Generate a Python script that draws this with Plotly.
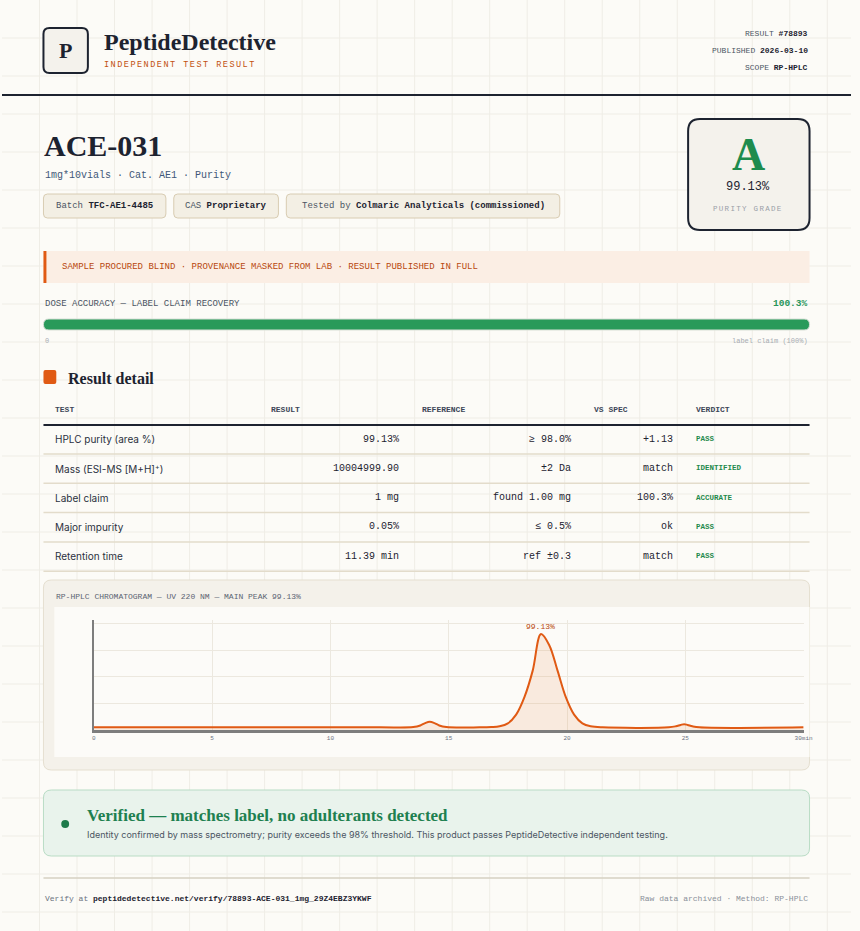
import plotly.graph_objects as go

# chromatogram trace (minutes vs absorbance, arbitrary units)
rt_min = [0, 12.0, 13.5, 13.8, 14.0, 14.2, 14.4, 14.6, 14.9, 16.3, 16.8, 17.15, 17.5, 17.85, 18.2, 18.55,
          18.9, 19.25, 19.6, 19.95, 20.3, 20.65, 21.0, 21.5, 24.3, 24.6, 24.8, 24.95, 25.1, 25.3, 25.6, 30]
signal = [0.1, 0.1, 0.11, 0.17, 0.26, 0.31, 0.26, 0.17, 0.11, 0.1, 0.11, 0.14, 0.25, 0.58, 1.24, 2.24,
          3.62, 3.20, 2.24, 1.24, 0.58, 0.25, 0.14, 0.1, 0.1, 0.14, 0.19, 0.22, 0.19, 0.14, 0.1, 0.1]
x_ticks = [0, 5, 10, 15, 20, 25, 30]
x_tick_labels = ["0", "5", "10", "15", "20", "25", "30min"]
peak_label = "99.13%"

table_head = ["TEST", "RESULT", "REFERENCE", "VS SPEC", "VERDICT"]
tests = ["HPLC purity (area %)", "Mass (ESI-MS [M+H]<sup>+</sup>)", "Label claim", "Major impurity", "Retention time"]
results = ["99.13%", "10004999.90", "1 mg", "0.05%", "11.39 min"]
references = ["≥ 98.0%", "±2 Da", "found 1.00 mg", "≤ 0.5%", "ref ±0.3"]
vs_spec = ["+1.13", "match", "100.3%", "ok", "match"]
verdicts = ["PASS", "IDENTIFIED", "ACCURATE", "PASS", "PASS"]

W, H = 860, 931
MONO = "Liberation Mono"
SERIF = "Liberation Serif"
SANS = "Inter"
INK = "#1d2330"
GREEN = "#1f8a4c"
ORANGE = "#e05a14"

shapes = []
annots = []


def px(x):
    return x / W


def py(y):
    return 1 - y / H


def spaced(s, gap):
    return f"<span style='letter-spacing:{gap}px'>{s}</span>"


def rrect(x0, y0, x1, y1, r, fill, line=None, lw=1):
    rx, ry = r / W, r / H
    a, b, c, d = px(x0), px(x1), py(y0), py(y1)
    p = (f"M{a+rx},{c} L{b-rx},{c} Q{b},{c} {b},{c-ry} L{b},{d+ry} Q{b},{d} {b-rx},{d} "
         f"L{a+rx},{d} Q{a},{d} {a},{d+ry} L{a},{c-ry} Q{a},{c} {a+rx},{c} Z")
    shapes.append(dict(type="path", path=p, xref="paper", yref="paper", fillcolor=fill, layer="below",
                       line=dict(color=line or fill, width=lw if line else 0)))


def rect(x0, y0, x1, y1, fill):
    shapes.append(dict(type="rect", x0=px(x0), x1=px(x1), y0=py(y0), y1=py(y1), xref="paper", yref="paper",
                       fillcolor=fill, line=dict(width=0), layer="below"))


def line(x0, y0, x1, y1, color, w=1):
    shapes.append(dict(type="line", x0=px(x0), x1=px(x1), y0=py(y0), y1=py(y1), xref="paper", yref="paper",
                       line=dict(color=color, width=w), layer="below"))


def text(x, y, s, size, color=INK, font=MONO, anchor="left"):
    annots.append(dict(x=px(x), y=py(y), xref="paper", yref="paper", text=s, showarrow=False, xanchor=anchor,
                       yanchor="middle", font=dict(family=font, size=size, color=color)))


# page grid
for gx in range(38, W, 38):
    line(gx, 0, gx, H, "#efede6")
for gy in range(38, H, 38):
    line(0, gy, W, gy, "#efede6")

# header
rrect(42, 28, 87, 73, 6, "#f4f2ec", INK, 2)
text(64.5, 51, "<b>P</b>", 22, INK, SERIF, "center")
text(101, 42, "<b>PeptideDetective</b>", 24, INK, SERIF)
text(101, 65, spaced("INDEPENDENT TEST RESULT", 1.5), 8.5, "#c2500f")
text(818, 34, "RESULT <b style='color:#1d2330'>#78893</b>", 8, "#4b5563", anchor="right")
text(818, 51, "PUBLISHED <b style='color:#1d2330'>2026-03-10</b>", 8, "#4b5563", anchor="right")
text(818, 68, "SCOPE <b style='color:#1d2330'>RP-HPLC</b>", 8, "#4b5563", anchor="right")
line(0, 95, W, 95, INK, 2)

# product
text(41, 145, "<b>ACE-031</b>", 30, INK, SERIF)
text(42, 175, "1mg*10vials · Cat. AE1 · Purity", 10, "#3f5878")
for x0, x1, label in [(42, 166, "Batch <b style='color:#1d2330'>TFC-AE1-4485</b>"),
                      (174, 280, "CAS <b style='color:#1d2330'>Proprietary</b>"),
                      (288, 565, "Tested by <b style='color:#1d2330'>Colmaric Analyticals (commissioned)</b>")]:
    rrect(x0, 194, x1, 218, 4, "#f3efe4", "#d8ccb2", 1)
    text((x0 + x1) / 2, 206, label, 9, "#4b5563", anchor="center")

rrect(695, 119, 818, 230, 12, "#f4f2ec", INK, 2)
text(756, 155, "<b>A</b>", 46, "#1e8c4e", SERIF, "center")
text(756, 187, "99.13%", 12, INK, anchor="center")
text(756, 209, spaced("PURITY GRADE", 1.3), 7.5, "#9aa0a8", anchor="center")

# banner
rect(42, 251, 818, 283, "#fbeee4")
rect(42, 251, 45, 283, ORANGE)
text(59, 267, "SAMPLE PROCURED BLIND · PROVENANCE MASKED FROM LAB · RESULT PUBLISHED IN FULL", 9, "#b8480e")

# dose accuracy bar
text(42, 304, "DOSE ACCURACY — LABEL CLAIM RECOVERY", 9, "#4b5563")
text(818, 304, "<b>100.3%</b>", 9.5, "#27955a", anchor="right")
rrect(42, 319, 818, 330, 5.5, "#299a5a", "#d8dfd6", 1)
text(42, 341, "0", 7, "#a8adb3")
text(818, 341, "label claim (100%)", 7, "#a8adb3", anchor="right")

# result detail
rrect(42, 370, 55, 384, 2, ORANGE)
text(65, 378, "<b>Result detail</b>", 16, INK, SERIF)
head_x = [52, 270, 423, 598, 701]
for hx, h in zip(head_x, table_head):
    text(hx, 410, "<b>" + h + "</b>", 8, "#3d4658")
line(42, 425, 818, 425, INK, 2)
for i in range(len(tests)):
    cy = 439 + i * 29.3
    text(52, cy, tests[i], 10, "#2b3140", SANS)
    text(404, cy, results[i], 10, INK, anchor="right")
    text(578, cy, references[i], 10, INK, anchor="right")
    text(682, cy, vs_spec[i], 10, INK, anchor="right")
    text(701, cy, "<b>" + verdicts[i] + "</b>", 7.5, GREEN)
    line(42, cy + 15, 818, cy + 15, "#e3dccb", 1.5)

# chromatogram card
rrect(42, 580, 818, 770, 8, "#f4f1ea", "#e5dfd0", 1)
rect(53, 607, 818, 757, "#fcfbf8")
text(53, 596, "RP-HPLC CHROMATOGRAM — UV 220 NM — MAIN PEAK 99.13%", 8, "#5b6472")

# verdict box
rrect(42, 790, 818, 856, 8, "#e9f3ec", "#b9dcc5", 1)
shapes.append(dict(type="circle", x0=px(60), x1=px(68), y0=py(820), y1=py(828), xref="paper", yref="paper",
                   fillcolor="#1e7a4a", line=dict(width=0)))
text(84, 815, "<b>Verified — matches label, no adulterants detected</b>", 17, "#1e8050", SERIF)
text(84, 834, "Identity confirmed by mass spectrometry; purity exceeds the 98% threshold. "
              "This product passes PeptideDetective independent testing.", 9, "#4b5563", SANS)

# footer
line(42, 878, 818, 878, "#d6d0c2", 1.5)
text(42, 898, "Verify at <b style='color:#1d2330'>peptidedetective.net/verify/78893-ACE-031_1mg_29Z4EBZ3YKWF</b>",
     8, "#6b7280")
text(818, 898, "Raw data archived · Method: RP-HPLC", 8, "#8a9099", anchor="right")

fig = go.Figure()
fig.add_trace(go.Scatter(x=rt_min, y=signal, mode="lines", line=dict(color=ORANGE, width=2, shape="spline"),
                         fill="tozeroy", fillcolor="rgba(235,120,50,0.13)", hoverinfo="skip"))
peak_i = signal.index(max(signal))
annots.append(dict(x=rt_min[peak_i], y=signal[peak_i], xref="x", yref="y", text=peak_label, showarrow=False,
                   yanchor="bottom", yshift=1, font=dict(family=MONO, size=8, color="#b8480e")))

fig.update_layout(
    width=W, height=H, margin=dict(l=0, r=0, t=0, b=0), showlegend=False,
    paper_bgcolor="#fcfbf7", plot_bgcolor="rgba(0,0,0,0)",
    xaxis=dict(domain=[93 / W, 812 / W], range=[0, 30], tickvals=x_ticks, ticktext=x_tick_labels,
               tickfont=dict(family=MONO, size=6, color="#6b7280"), showgrid=True, gridcolor="#ece8df",
               showline=True, linecolor="#7d7d7d", linewidth=3, zeroline=False, ticks=""),
    yaxis=dict(domain=[1 - 730 / H, 1 - 620 / H], range=[0, 4.15], dtick=1, showticklabels=False,
               showgrid=True, gridcolor="#ece8df", showline=True, linecolor="#7d7d7d", linewidth=2,
               zeroline=False),
    shapes=shapes, annotations=annots,
)

fig.write_html("out.html", config={"displayModeBar": False},
               post_script="document.body.style.margin='0';document.body.style.overflow='hidden';")
